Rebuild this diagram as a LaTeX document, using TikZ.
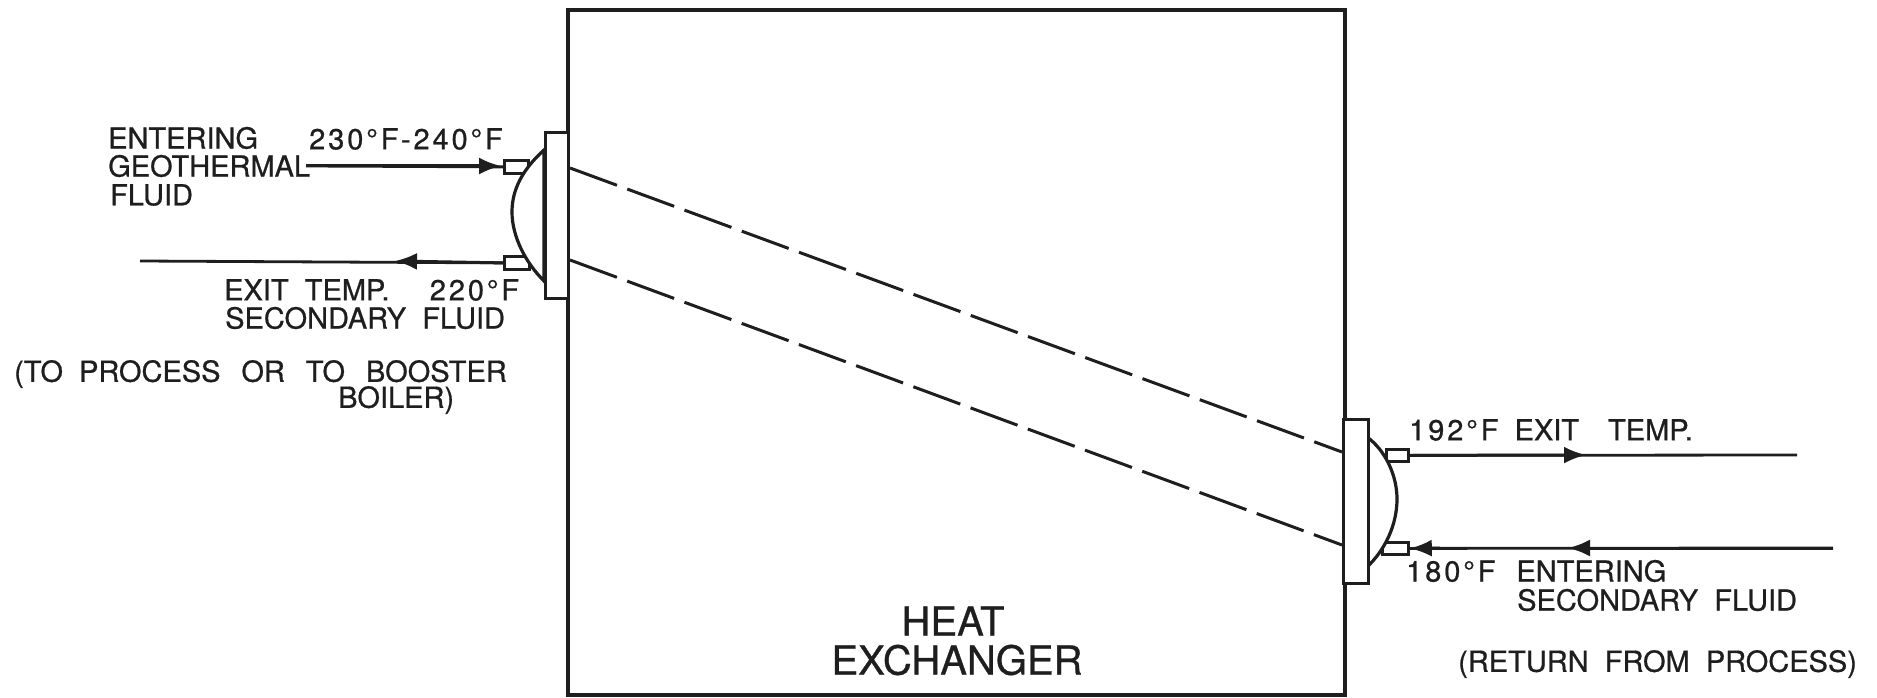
\documentclass[tikz,border=0pt]{standalone}
\usepackage{fontspec}
\setmainfont[FakeBold=0.6]{TeX Gyre Heros}
\newfontfamily\labfont[FakeBold=0.7]{TeX Gyre Heros}
\newfontfamily\numfont[FakeBold=0.7,LetterSpace=10]{TeX Gyre Heros}
\usetikzlibrary{arrows.meta}
\tikzset{
  x=1pt,y=-1pt,
  inkline/.style={draw=ink,line width=3.2pt},
  thinline/.style={draw=ink,line width=2.8pt},
  dashline/.style={draw=ink,line width=3pt,dash pattern=on 50pt off 11pt},
  flow/.style={draw=ink,line width=3pt,-{Latex[length=22pt,width=17pt]}},
  part/.style={inkline,fill=white,inner sep=0pt,rectangle},
  lab/.style={text=ink,inner sep=0pt,anchor=west,font=\labfont\fontsize{29}{29}\selectfont},
  big/.style={text=ink,inner sep=0pt,anchor=center,font=\labfont\fontsize{40}{40}\selectfont}
}
\definecolor{ink}{HTML}{1E1E1E}
\begin{document}
\begin{tikzpicture}
\useasboundingbox[fill=white] (0,0) rectangle (1877,698);
% main shell
\node[part,line width=4pt,anchor=north west,minimum width=777pt,minimum height=685pt] (shell) at (566,8) {};
% nozzles go under the domes
\node[part,thinline,anchor=north west,minimum width=24pt,minimum height=13pt] (ln1) at (503,159) {};
\node[part,thinline,anchor=north west,minimum width=25pt,minimum height=13pt] (ln2) at (503,255) {};
\node[part,thinline,anchor=north west,minimum width=22pt,minimum height=12pt] (rn1) at (1385,448) {};
\node[part,thinline,anchor=north west,minimum width=26pt,minimum height=12pt] (rn2) at (1381,541) {};
% left dome and header
\coordinate (ldA) at (544,150);
\coordinate (ldB) at (544,281);
\draw[inkline,fill=white] (ldA) .. controls (522,170) and (512,190) .. (512,212) .. controls (512,236) and (525,262) .. (ldB) -- cycle;
\node[part,anchor=north west,minimum width=23pt,minimum height=166pt] (lhead) at (544,131) {};
% right dome and header
\coordinate (rdA) at (1367,437);
\coordinate (rdB) at (1367,567);
\draw[inkline,fill=white] (rdA) .. controls (1385,450) and (1397,475) .. (1397,499) .. controls (1397,525) and (1385,550) .. (rdB) -- cycle;
\node[part,anchor=north west,minimum width=25pt,minimum height=164pt] (rhead) at (1342,418) {};
% dashed tube lines
\coordinate (d1a) at (570,168); \coordinate (d1b) at (1342,452);
\coordinate (d2a) at (570,260); \coordinate (d2b) at (1342,545);
\draw[dashline] (d1a) -- (d1b);
\draw[dashline] (d2a) -- (d2b);
% flow lines
\coordinate (f1s) at (306,166);
\coordinate (f2e) at (140,261);
\coordinate (f3e) at (1797,455);
\coordinate (f4s) at (1833,548);
\coordinate (m1) at (501,166);
\coordinate (m2) at (395,261);
\coordinate (m3) at (1586,455);
\coordinate (m4) at (1568,548);
\coordinate (m5) at (1440,548);
\draw[thinline] (f1s) -- (ln1.west);
\draw[flow] (f1s) -- (m1);
\draw[thinline] (ln2.west) -- (f2e);
\draw[flow] (ln2.west) -- (m2);
\draw[thinline] (rn1.east) -- (f3e);
\draw[flow] (rn1.east) -- (m3);
\draw[thinline] (f4s) -- (rn2.east);
\draw[flow] (f4s) -- (m4);
\draw[flow] (m5) -- (rn2.east);
% labels
\node[lab] (t1) at (108,138) {ENTERING};
\node[lab] (t2) at (108,166) {GEOTHERMAL};
\node[lab] (t3) at (110,195) {FLUID};
\node[lab] (t4) at (309,139) {\numfont 230°F-240°F};
\node[lab] (t5) at (224,290) {EXIT\ \ TEMP.\ \ \ \ \ {\numfont 220°F}};
\node[lab] (t6) at (225,318) {SECONDARY\ \ FLUID};
\node[lab] (t7) at (14,374) {(TO\ \ PROCESS\ \ \,OR\ \ \,TO\ \ \,BOOSTER};
\node[lab] (t8) at (338,400) {BOILER)};
\node[lab] (t9) at (1409,430) {{\numfont 192°F}\ \ EXIT\ \ \ \,TEMP.};
\node[lab] (t10) at (1406,571) {{\numfont 180°F}\ \ \,ENTERING};
\node[lab] (t11) at (1517,600) {SECONDARY\ \ FLUID};
\node[lab] (t12) at (1458,664) {(RETURN\ \ FROM\ \ PROCESS)};
\node[big] (t13) at (953,621) {HEAT};
\node[big] (t14) at (957,660) {EXCHANGER};
\end{tikzpicture}
\end{document}
